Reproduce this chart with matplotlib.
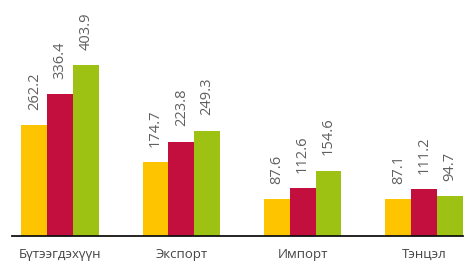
import matplotlib
matplotlib.use("Agg")
import matplotlib.pyplot as plt
import numpy as np

categories = ["Бүтээгдэхүүн", "Экспорт", "Импорт", "Тэнцэл"]
series_a = [262.2, 174.7, 87.6, 87.1]
series_b = [336.4, 223.8, 112.6, 111.2]
series_c = [403.9, 249.3, 154.6, 94.7]
value_labels_a = ["262.2", "174.7", "87.6", "87.1"]
value_labels_b = ["336.4", "223.8", "112.6", "111.2"]
value_labels_c = ["403.9", "249.3", "154.6", "94.7"]

colors = ["#FFC400", "#C20F3E", "#9DC214"]

plt.rcParams['font.family'] = ['Open Sans', 'DejaVu Sans']

fig = plt.figure(figsize=(4.67, 2.64), dpi=100)
ax = fig.add_axes([0.0257, 0.106, 0.9653, 0.894])

x = np.arange(len(categories))
w = 0.212
for i, (vals, labs) in enumerate(zip([series_a, series_b, series_c],
                                     [value_labels_a, value_labels_b, value_labels_c])):
    pos = x + (i - 1) * w
    ax.bar(pos, vals, width=w, color=colors[i], linewidth=0)
    for px, v, lab in zip(pos, vals, labs):
        ax.annotate(lab, (px, v), xytext=(0, 11), textcoords="offset points",
                    rotation=90, ha="center", va="bottom", fontsize=10.5,
                    color="#606060")

ax.set_xlim(-0.396, 3.32)
ax.set_ylim(0, 559)
ax.set_xticks(x)
ax.set_xticklabels(categories, fontsize=9.5, color="#444444")
ax.tick_params(axis="x", length=0, pad=8.5)
ax.set_yticks([])
for s in ["top", "right", "left"]:
    ax.spines[s].set_visible(False)
ax.spines["bottom"].set_linewidth(1.3)
ax.spines["bottom"].set_color("#111111")
ax.patch.set_alpha(0)

fig.savefig("out.png", dpi=100)
